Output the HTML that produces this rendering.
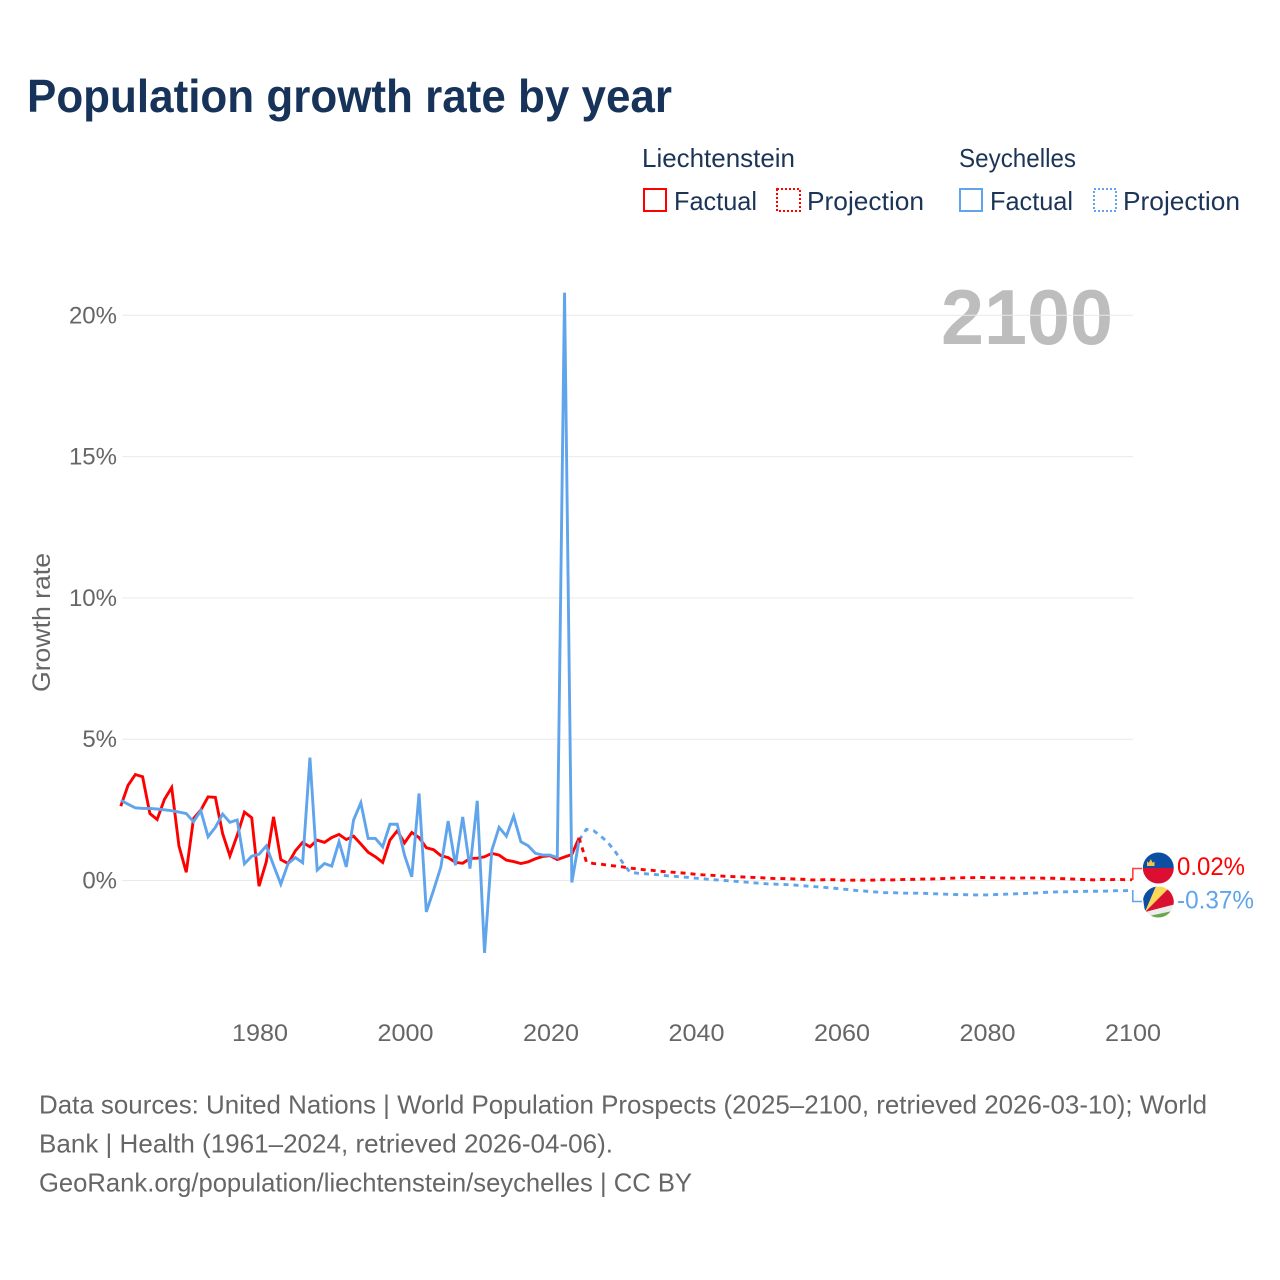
<!DOCTYPE html>
<html lang="en">
<head>
<meta charset="utf-8">
<title>Population growth rate by year</title>
<style>
html,body{margin:0;padding:0;background:#fff;}
svg{display:block;font-family:"Liberation Sans",sans-serif;}
</style>
</head>
<body>
<svg id="chart" width="1280" height="1280" viewBox="0 0 1280 1280" xmlns="http://www.w3.org/2000/svg">
  <rect width="1280" height="1280" fill="#fff"/>
  <text x="27" y="112" font-size="46" font-weight="700" fill="#17335a" textLength="645" lengthAdjust="spacingAndGlyphs">Population growth rate by year</text>

  <g font-size="26" fill="#1c3557">
    <text x="642" y="167" textLength="153" lengthAdjust="spacingAndGlyphs">Liechtenstein</text>
    <text x="959" y="167" textLength="117" lengthAdjust="spacingAndGlyphs">Seychelles</text>
    <rect x="644" y="189" width="22" height="22" fill="none" stroke="#ff0000" stroke-width="2"/>
    <text x="674" y="210" textLength="83" lengthAdjust="spacingAndGlyphs">Factual</text>
    <rect x="777" y="189" width="23" height="22" fill="none" stroke="#ff0000" stroke-width="2" stroke-dasharray="2 2"/>
    <text x="807" y="210" textLength="117" lengthAdjust="spacingAndGlyphs">Projection</text>
    <rect x="960" y="189" width="22" height="22" fill="none" stroke="#60a5ec" stroke-width="2"/>
    <text x="990" y="210" textLength="83" lengthAdjust="spacingAndGlyphs">Factual</text>
    <rect x="1094" y="189" width="22" height="22" fill="none" stroke="#60a5ec" stroke-width="2" stroke-dasharray="2 2"/>
    <text x="1123" y="210" textLength="117" lengthAdjust="spacingAndGlyphs">Projection</text>
  </g>

  <text x="941" y="344" font-size="78" font-weight="700" fill="#bdbdbd" textLength="172" lengthAdjust="spacingAndGlyphs">2100</text>
  <text transform="translate(50,692) rotate(-90)" font-size="25" fill="#666" textLength="139" lengthAdjust="spacingAndGlyphs">Growth rate</text>

  <g id="grid"></g>
  <g id="yticks" font-size="24" fill="#666" text-anchor="end"></g>
  <g id="xticks" font-size="24" fill="#666" text-anchor="middle"></g>
  <g id="series" fill="none" stroke-width="2.9" stroke-linejoin="miter"></g>

  <defs>
    <clipPath id="flag-clip-li"><circle cx="1158.3" cy="868" r="15.5"/></clipPath>
    <clipPath id="flag-clip-sc"><circle cx="1158.3" cy="902" r="15.5"/></clipPath>
  </defs>

  <path d="M1132.8 880V868.5H1142" fill="none" stroke="#ff0000" stroke-opacity="0.75" stroke-width="1.6"/>
  <path d="M1132.8 890V901.5H1142" fill="none" stroke="#60a5ec" stroke-width="1.6"/>

  <g clip-path="url(#flag-clip-li)">
    <rect x="1142" y="852" width="33" height="16" fill="#0b4ea2"/>
    <rect x="1142" y="868" width="33" height="17" fill="#dc0f32"/>
    <path d="M1147 866h7.5v-4.5l-1.8 1.2-1.9-3.6-1.9 3.6-1.9-1.2z" fill="#f2c24a"/>
  </g>
  <g clip-path="url(#flag-clip-sc)">
    <rect x="1142" y="886" width="33" height="33" fill="#ededed"/>
    <polygon points="1145,912 1141,884 1157,884" fill="#0b4ea2"/>
    <polygon points="1145,912 1157,884 1169,888" fill="#fcd856"/>
    <polygon points="1145,912 1169,888 1176,904" fill="#d9102f"/>
    <polygon points="1149,916 1170,911.5 1176,911.5 1176,920 1149,920" fill="#6aa84f"/>
  </g>

  <text x="1177" y="875" font-size="25" fill="#ff0000" textLength="68" lengthAdjust="spacingAndGlyphs">0.02%</text>
  <text x="1177" y="908.5" font-size="25" fill="#60a5ec" textLength="77" lengthAdjust="spacingAndGlyphs">-0.37%</text>

  <g font-size="26" fill="#666">
    <text x="39" y="1113.5" textLength="1168" lengthAdjust="spacingAndGlyphs">Data sources: United Nations | World Population Prospects (2025–2100, retrieved 2026-03-10); World</text>
    <text x="39" y="1152.5" textLength="574" lengthAdjust="spacingAndGlyphs">Bank | Health (1961–2024, retrieved 2026-04-06).</text>
    <text x="39" y="1191.5" textLength="653" lengthAdjust="spacingAndGlyphs">GeoRank.org/population/liechtenstein/seychelles | CC BY</text>
  </g>
</svg>
<script>
var xTickYears = [1980, 2000, 2020, 2040, 2060, 2080, 2100];
var yTickValues = [0, 5, 10, 15, 20];
var factualStartYear = 1961;
var projectionStartYear = 2024;
var liechtensteinFactual = [2.63,3.37,3.75,3.67,2.37,2.16,2.87,3.29,1.22,0.29,2.19,2.49,2.96,2.94,1.66,0.87,1.60,2.42,2.22,-0.20,0.66,2.25,0.74,0.60,1.05,1.35,1.19,1.43,1.35,1.52,1.63,1.45,1.57,1.29,1.00,0.84,0.64,1.43,1.76,1.33,1.70,1.52,1.16,1.09,0.88,0.81,0.64,0.61,0.78,0.79,0.84,0.96,0.90,0.72,0.67,0.60,0.66,0.77,0.85,0.88,0.74,0.83,0.92,1.51];
var seychellesFactual = [2.84,2.70,2.57,2.55,2.55,2.53,2.50,2.47,2.42,2.37,2.08,2.47,1.55,1.88,2.35,2.06,2.14,0.59,0.86,0.93,1.22,0.54,-0.13,0.60,0.81,0.63,4.35,0.37,0.60,0.51,1.37,0.48,2.14,2.75,1.49,1.49,1.19,1.99,1.99,0.90,0.13,3.08,-1.11,-0.34,0.48,2.10,0.54,2.25,0.42,2.82,-2.56,1.07,1.88,1.57,2.28,1.37,1.23,0.96,0.90,0.90,0.81,20.8,-0.07,1.43];
var liechtensteinProjection = [1.51,0.66,0.60,0.58,0.54,0.51,0.48,0.44,0.41,0.38,0.36,0.33,0.31,0.29,0.27,0.25,0.22,0.20,0.19,0.17,0.15,0.14,0.13,0.12,0.11,0.10,0.08,0.07,0.07,0.06,0.05,0.04,0.02,0.02,0.03,0.03,0.01,0.01,0.01,0.01,0.01,0.02,0.03,0.02,0.03,0.04,0.04,0.05,0.05,0.06,0.07,0.08,0.09,0.10,0.10,0.11,0.10,0.10,0.09,0.09,0.08,0.09,0.09,0.09,0.08,0.08,0.07,0.06,0.05,0.04,0.03,0.02,0.04,0.03,0.04,0.03,0.03];
var seychellesProjection = [1.43,1.81,1.76,1.57,1.33,1.01,0.63,0.29,0.26,0.24,0.22,0.20,0.17,0.15,0.13,0.11,0.08,0.06,0.04,0.02,0.00,-0.02,-0.04,-0.06,-0.08,-0.10,-0.12,-0.13,-0.14,-0.15,-0.17,-0.19,-0.21,-0.23,-0.25,-0.27,-0.30,-0.32,-0.35,-0.37,-0.39,-0.41,-0.43,-0.43,-0.44,-0.45,-0.45,-0.45,-0.46,-0.47,-0.48,-0.49,-0.50,-0.50,-0.51,-0.51,-0.51,-0.50,-0.49,-0.48,-0.47,-0.46,-0.45,-0.44,-0.42,-0.41,-0.40,-0.40,-0.39,-0.39,-0.38,-0.38,-0.38,-0.37,-0.36,-0.36,-0.35];

var NS = 'http://www.w3.org/2000/svg';
function xScale(year) { return 260 + (year - 1980) * 7.275; }
function lineX(year) { return xScale(year) - 1; }
function yScale(v) { return 880.5 - v * 28.26; }
function linePath(values, startYear) {
  var d = '';
  for (var i = 0; i < values.length; i++) {
    d += (i ? 'L' : 'M') + lineX(startYear + i).toFixed(2) + ' ' + yScale(values[i]).toFixed(2);
  }
  return d;
}

var grid = document.getElementById('grid');
var yticks = document.getElementById('yticks');
var xticks = document.getElementById('xticks');
var series = document.getElementById('series');

yTickValues.forEach(function (v) {
  var ln = document.createElementNS(NS, 'line');
  
  
  ln.setAttribute('x1', 122);
  ln.setAttribute('x2', 1133);
  ln.setAttribute('y1', yScale(v));
  ln.setAttribute('y2', yScale(v));
  ln.setAttribute('stroke', '#e9e9e9');
  ln.setAttribute('stroke-width', '1');
  grid.appendChild(ln);

  var t = document.createElementNS(NS, 'text');
  
  
  t.setAttribute('x', 117);
  t.setAttribute('y', yScale(v) + 8);
  t.textContent = v + '%';
  yticks.appendChild(t);
});

xTickYears.forEach(function (y) {
  var t = document.createElementNS(NS, 'text');
  
  
  t.setAttribute('x', xScale(y));
  t.setAttribute('y', 1041);
  t.setAttribute('textLength', 56);
  t.setAttribute('lengthAdjust', 'spacingAndGlyphs');
  t.textContent = y;
  xticks.appendChild(t);
});

function addLine(name, values, start, color, dash) {
  var p = document.createElementNS(NS, 'path');
  
  
  p.setAttribute('d', linePath(values, start));
  p.setAttribute('stroke', color);
  if (dash) p.setAttribute('stroke-dasharray', dash);
  series.appendChild(p);
}
addLine('line-liechtenstein-factual', liechtensteinFactual, factualStartYear, '#ff0000');
addLine('line-seychelles-factual', seychellesFactual, factualStartYear, '#60a5ec');
addLine('line-seychelles-projection', seychellesProjection, projectionStartYear, '#60a5ec', '5 5');
addLine('line-liechtenstein-projection', liechtensteinProjection, projectionStartYear, '#ff0000', '5 5');
</script>
</body>
</html>
